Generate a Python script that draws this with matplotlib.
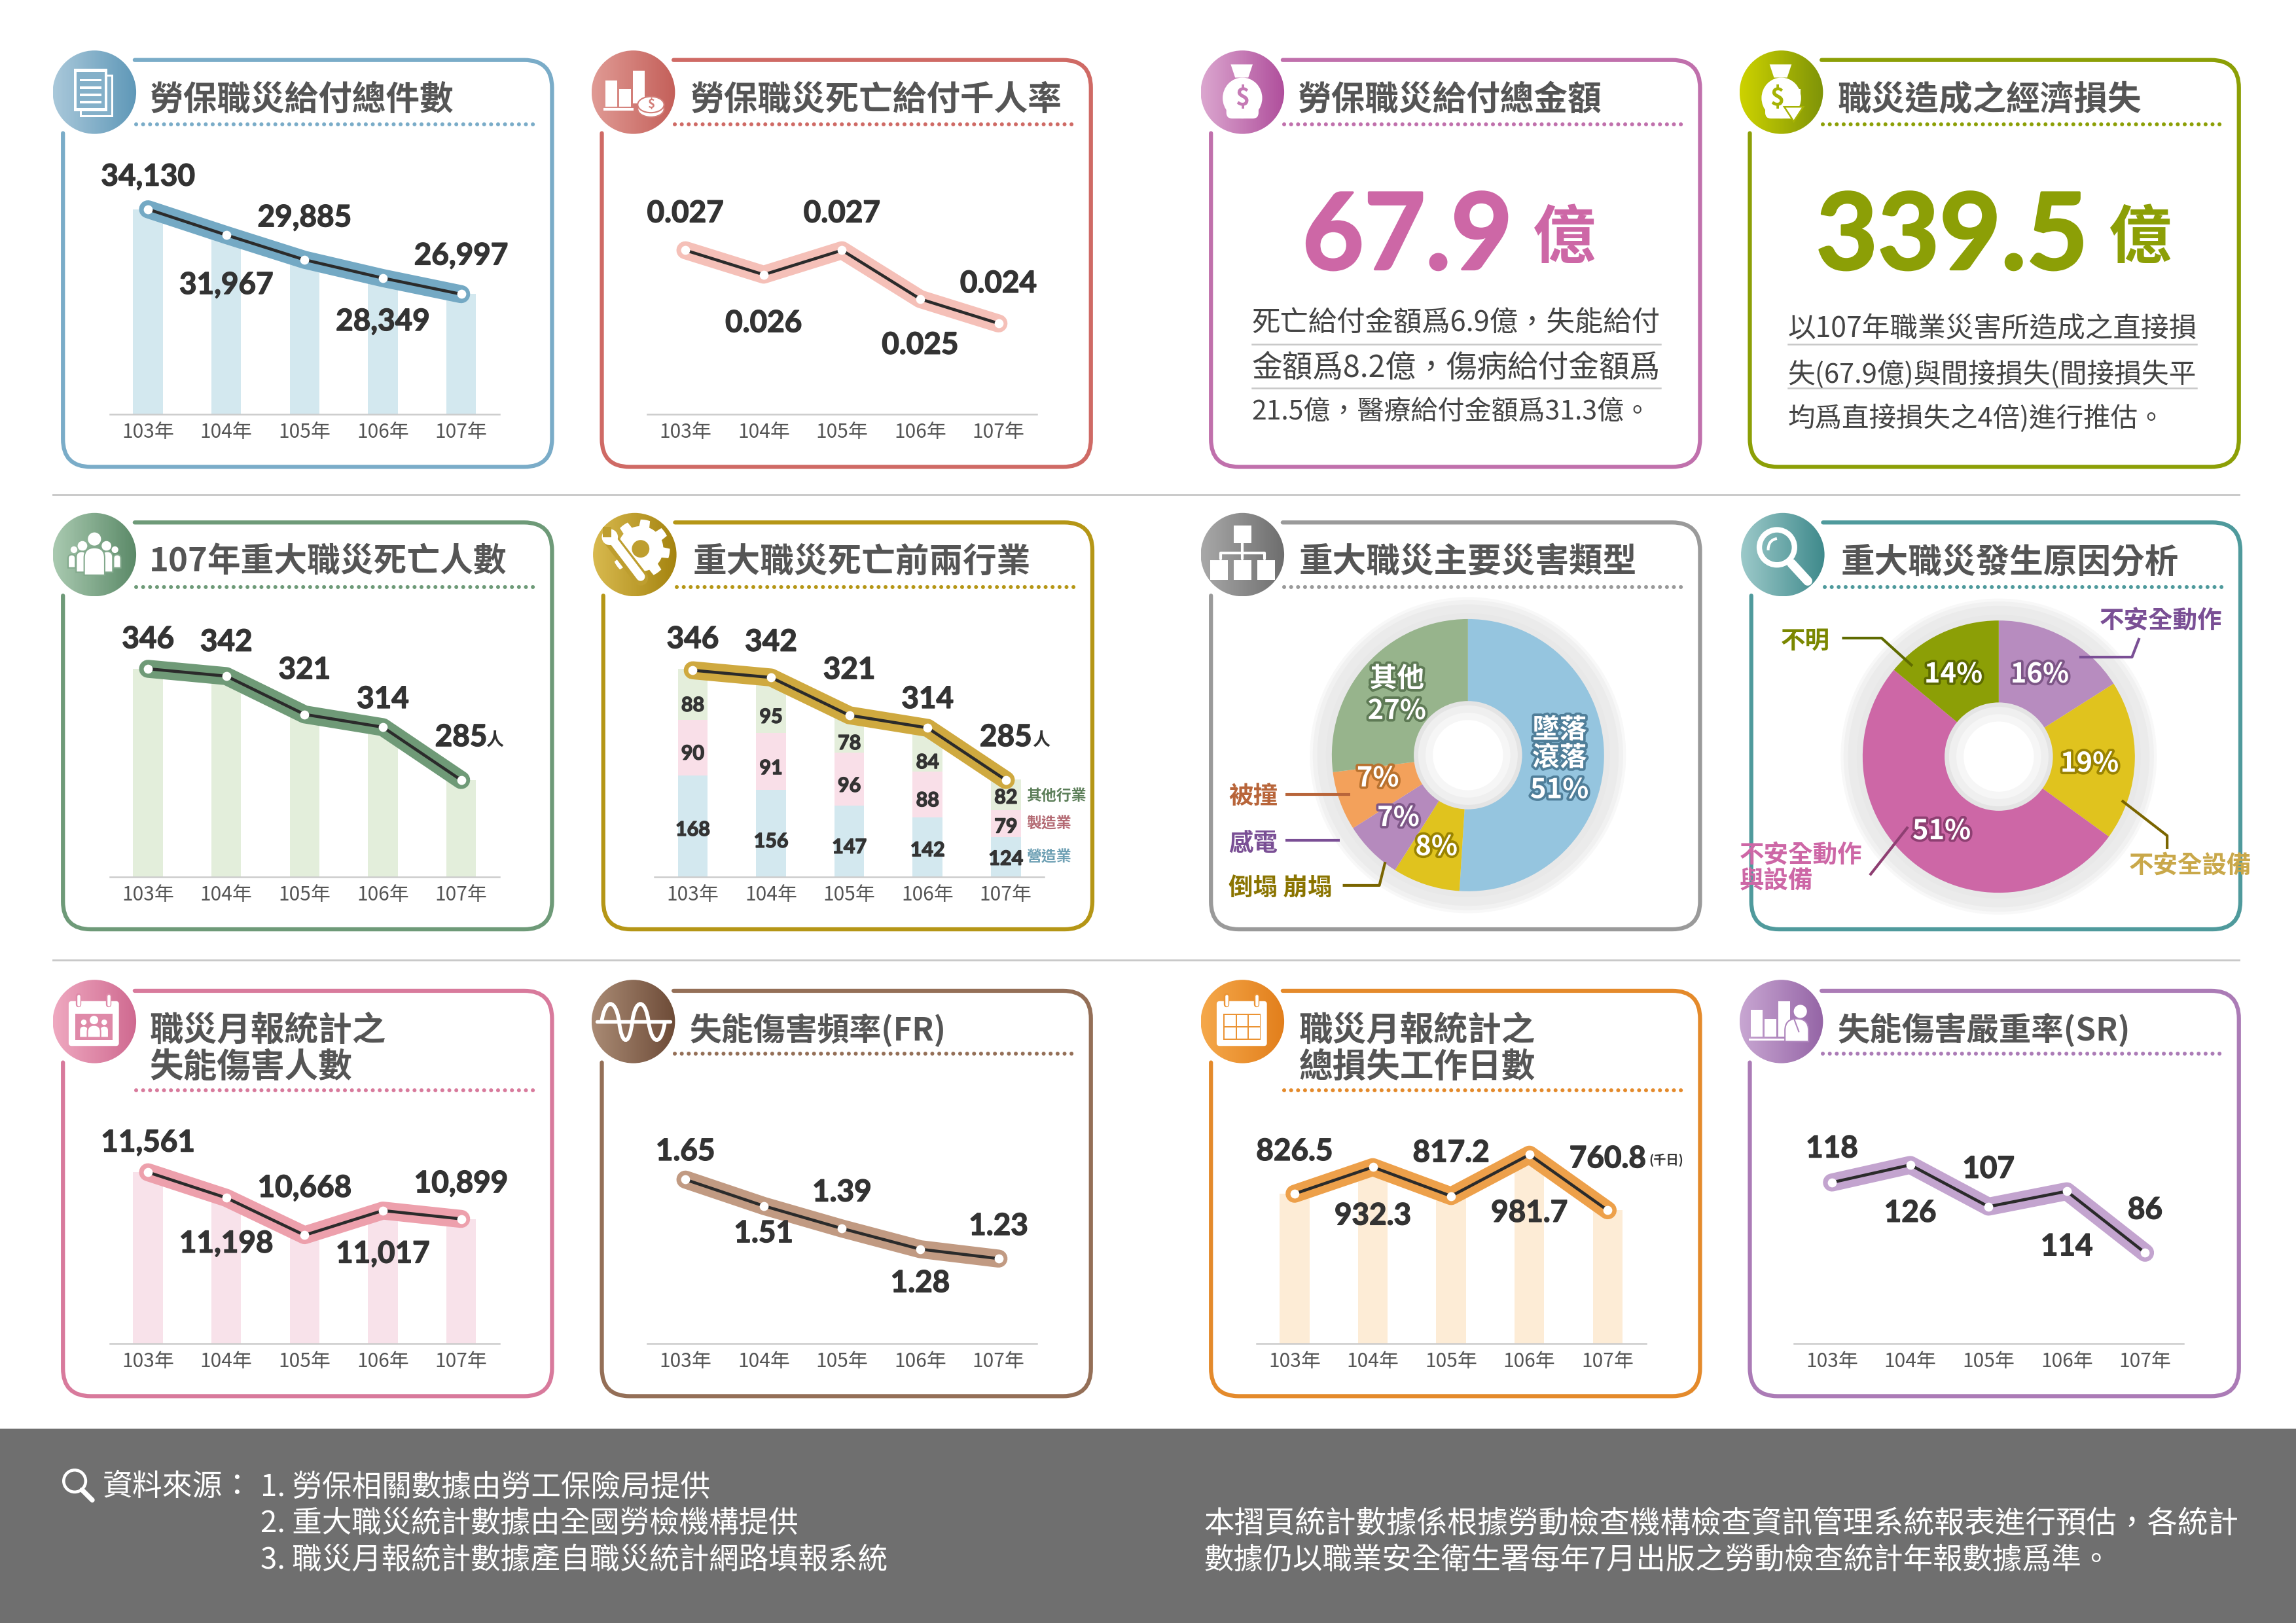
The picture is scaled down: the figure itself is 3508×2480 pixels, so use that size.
import numpy as np
import matplotlib
matplotlib.use('Agg')
import matplotlib.pyplot as plt
import matplotlib.patheffects as pe
from matplotlib.colors import LinearSegmentedColormap
from matplotlib.patches import Circle, Ellipse, Rectangle, Polygon, PathPatch, FancyBboxPatch
from matplotlib.path import Path
from matplotlib.transforms import blended_transform_factory

plt.rcParams['font.family'] = ['Noto Sans CJK TC', 'DejaVu Sans']

# data
years = ['103年', '104年', '105年', '106年', '107年']
claims = [34130, 31967, 29885, 28349, 26997]
death_rate = [0.027, 0.026, 0.027, 0.025, 0.024]
deaths = [346, 342, 321, 314, 285]
injured = [11561, 11198, 10668, 11017, 10899]
fr = [1.65, 1.51, 1.39, 1.28, 1.23]
lost_days = [826.5, 932.3, 817.2, 981.7, 760.8]
sr = [118, 126, 107, 114, 86]

construction = [168, 156, 147, 142, 124]
manufacturing = [90, 91, 96, 88, 79]
other_ind = [88, 95, 78, 84, 82]
# the stack is not to scale in the original, heights read off on the line's axis
construction_h = [56.1, 48.2, 39.5, 33.1, 22.0]
manufacturing_h = [30.9, 31.7, 29.3, 25.4, 15.0]
other_h = [28.5, 31.1, 21.2, 24.5, 17.0]

type_names = ['墜落滾落', '倒塌崩塌', '感電', '被撞', '其他']
type_share = [51, 8, 7, 7, 27]
cause_names = ['不安全動作', '不安全設備', '不安全動作與設備', '不明']
cause_share = [16, 19, 51, 14]

W, H = 1568., 1109.
fig = plt.figure(figsize=(3508/300., 2480/300.), dpi=300, facecolor='white')
deco = fig.add_axes([0, 0, 1, 1])
deco.set_xlim(0, W)
deco.set_ylim(H, 0)
deco.axis('off')
deco.set_autoscale_on(False)

NUM = ['Lato', 'Noto Sans CJK TC']
DARK = '#333333'
TITLE = '#555555'
UP = 2  # centred CJK text sits a little high


def inset(l, t, r, b):
    a = fig.add_axes([l/W, 1-b/H, (r-l)/W, (b-t)/H])
    a.patch.set_alpha(0)
    return a


def fit(txt, width):
    # scale the font so a line takes the width it has in the original
    rend = fig.canvas.get_renderer()
    ext = txt.get_window_extent(rend)
    target = width*3508/W
    txt.set_fontsize(txt.get_fontsize()*target/ext.width)


def box(x0, x1, y0, y1, ys, color):
    r = 19
    xs = x0+49
    verts = [(xs, y0), (x1-r, y0), (x1, y0), (x1, y0+r), (x1, y1-r), (x1, y1), (x1-r, y1),
             (x0+r, y1), (x0, y1), (x0, y1-r), (x0, ys)]
    codes = [Path.MOVETO, Path.LINETO, Path.CURVE3, Path.CURVE3, Path.LINETO, Path.CURVE3, Path.CURVE3,
             Path.LINETO, Path.CURVE3, Path.CURVE3, Path.LINETO]
    deco.add_patch(PathPatch(Path(verts, codes), fc='none', ec=color, lw=1.5, capstyle='round'))


def disc(cx, cy, c1, c2, r=28.5):
    cmap = LinearSegmentedColormap.from_list('d', [c1, c2])
    g = np.linspace(0, 1, 64).reshape(1, -1)
    im = deco.imshow(g, cmap=cmap, extent=(cx-r, cx+r, cy+r, cy-r), aspect='auto', zorder=1)
    clip = Circle((cx, cy), r, transform=deco.transData)
    im.set_clip_path(clip)


def dots(x0, x1, y, color):
    deco.plot([x0, x1], [y, y], color=color, lw=1.45, linestyle=(0, (0.01, 1.75)), dash_capstyle='round')


def title(x, y, s, width=None):
    t = deco.text(x, y+UP, s, fontsize=12.4, fontweight='bold', color=TITLE, va='center', ha='left')
    if width:
        fit(t, width)


def rect(x, y, w, h, fc='white', r=0):
    if r:
        p = FancyBboxPatch((x, y), w, h, boxstyle='round,pad=0,rounding_size=%f' % r, fc=fc, ec='none', zorder=5)
    else:
        p = Rectangle((x, y), w, h, fc=fc, ec='none', zorder=5)
    deco.add_patch(p)


def circ(x, y, r, fc='white'):
    deco.add_patch(Circle((x, y), r, fc=fc, ec='none', zorder=5))


def seg(pts, lw=1.5, c='white'):
    pts = np.array(pts)
    deco.plot(pts[:, 0], pts[:, 1], color=c, lw=lw, solid_capstyle='round', zorder=5)


def arch(x0, x1, top, bottom, c):
    # person body: flat bottom, rounded top
    verts = [(x0, bottom), (x0, top+(x1-x0)/2.), (x0, top), ((x0+x1)/2., top), (x1, top), (x1, top+(x1-x0)/2.),
             (x1, bottom), (x0, bottom)]
    codes = [Path.MOVETO, Path.LINETO, Path.CURVE3, Path.CURVE3, Path.CURVE3, Path.CURVE3, Path.LINETO, Path.CLOSEPOLY]
    deco.add_patch(PathPatch(Path(verts, codes), fc='white', ec=c, lw=0.5, zorder=5))


def icon_doc(x, y, c):
    rect(x-10, y-12, 23, 29)
    rect(x-8.5, y-10.5, 20, 26, fc=c)
    rect(x-14, y-16, 23, 29)
    rect(x-12, y-14, 19, 25, fc=c)
    for dy in (-9, -4, 1, 6):
        rect(x-10, y+dy, 15, 1.6)


def icon_bars(x, y, c):
    rect(x-19, y-8, 8, 18)
    rect(x-9.7, y-2, 8.2, 12)
    rect(x-0.3, y-14.6, 8, 22.4)
    rect(x-20.5, y+11, 20.5, 1.5)
    deco.add_patch(Ellipse((x+12, y+11.5), 18, 11, fc='white', ec=c, lw=0.5, zorder=5))
    deco.add_patch(Ellipse((x+12, y+8.5), 18, 11, fc='white', ec=c, lw=0.5, zorder=5))
    deco.text(x+12, y+8.5, '$', color=c, fontsize=4.5, fontweight='bold', ha='center', va='center', zorder=6)


def icon_bag(x, y, c, arrow=False):
    deco.add_patch(Polygon([(x-8, y-19), (x+7, y-19), (x+4, y-10), (x-5, y-10)], fc='white', ec='none', zorder=5))
    deco.add_patch(Ellipse((x, y+4), 27, 28, fc='white', ec='none', zorder=5))
    rect(x-11, y+6, 22, 12, r=4)
    dx = -3 if arrow else 0
    deco.text(x+dx, y+4, '$', color=c, fontsize=9, fontweight='bold', ha='center', va='center', zorder=6)
    if arrow:
        rect(x+4, y-2, 9, 3)
        rect(x+6, y-2, 5, 13, fc='white')
        deco.add_patch(Polygon([(x+2, y+10), (x+15, y+10), (x+8.5, y+20)], fc='white', ec=c, lw=0.6, zorder=5))


def icon_people(x, y, c):
    for sgn in (-1, 1):
        circ(x+sgn*14, y-3.4, 2.3)
        a, b = sorted((x+sgn*18, x+sgn*13))
        arch(a, b, y, y+9, c)
    for sgn in (-1, 1):
        circ(x+sgn*8.2, y-6, 3.3)
        a, b = sorted((x+sgn*12.5, x+sgn*5))
        arch(a, b, y-2.2, y+12, c)
    circ(x, y-10.7, 4.5)
    arch(x-7, x+7, y-4.8, y+14, c)


def icon_gear(x, y, c):
    ang = np.linspace(0, 2*np.pi, 97)[:-1]
    rad = np.where((np.arange(96) % 12) < 6, 20.0, 15.5)
    pts = np.column_stack((x+4+rad*np.cos(ang), y-4+rad*np.sin(ang)))
    deco.add_patch(Polygon(pts, fc='white', ec='none', zorder=5))
    circ(x+4, y-4, 6, fc=c)
    seg([(x-16, y-10), (x+4, y+16)], lw=5.5, c=c)
    seg([(x-15, y-10), (x+4, y+15)], lw=3.2)
    circ(x-17, y-12, 5.5)
    rect(x-22, y-19, 6, 7, fc=c)


def icon_org(x, y, c):
    rect(x-6, y-20, 12, 12)
    seg([(x, y-8), (x, y-1)], lw=1)
    seg([(x-15, y+3), (x-15, y-1), (x+15, y-1), (x+15, y+3)], lw=1)
    seg([(x, y-1), (x, y+3)], lw=1)
    for dx in (-22, -6, 10):
        rect(x+dx, y+4, 12, 13)


def icon_glass(x, y, c):
    seg([(x+6, y+6), (x+17, y+18)], lw=3.4)
    deco.add_patch(Circle((x-4, y-5), 12, fc='none', ec='white', lw=2, zorder=5))
    deco.add_patch(PathPatch(Path([(x-10, y-3), (x-10, y-10), (x-4, y-11)], [Path.MOVETO, Path.CURVE3, Path.CURVE3]),
                             fc='none', ec='white', lw=1, zorder=5))


def calendar(x, y, c):
    rect(x-17.6, y-13.9, 34.3, 30.6, r=2)
    for dx in (-10.9, 9.5):
        seg([(x+dx, y-17.5), (x+dx, y-11.5)], lw=2.0, c=c)
        seg([(x+dx, y-17.5), (x+dx, y-11.5)], lw=1.1)


def icon_cal_people(x, y, c):
    calendar(x, y, c)
    rect(x-13.1, y-5.2, 25.6, 17.9, fc=c)
    xm = x-0.3
    for sgn in (-1, 1):
        circ(xm+sgn*7, y+0.5, 1.9)
        a, b = sorted((xm+sgn*10, xm+sgn*4))
        arch(a, b, y+3, y+11, c)
    circ(xm, y-1, 2.9)
    arch(xm-4.5, xm+4.5, y+2.5, y+11, c)


def icon_wave(x, y, c):
    xs = [-21.6, -9.7, -0.7, 10.4, 21.6]
    hs = [-16, 16.8, -16, 16.8]
    verts = [(x+xs[0], y)]
    codes = [Path.MOVETO]
    for k in range(4):
        w = xs[k+1]-xs[k]
        verts += [(x+xs[k]+0.2*w, y+hs[k]), (x+xs[k+1]-0.2*w, y+hs[k]), (x+xs[k+1], y)]
        codes += [Path.CURVE4]*3
    deco.add_patch(PathPatch(Path(verts, codes), fc='none', ec='white', lw=1.4, zorder=5))
    seg([(x-25, y), (x+25, y)], lw=1.3)


def icon_cal(x, y, c):
    calendar(x, y, c)
    rect(x-13.1, y-5.2, 25.6, 17.9, fc=c)
    for i in range(3):
        for j in range(2):
            rect(x-12.2+i*8.3, y-4.3+j*8.4, 7.4, 7.6)


def icon_chart_person(x, y, c):
    rect(x-20.9, y-7.9, 8, 18.2)
    rect(x-11.6, y-1.6, 8.2, 11.9)
    rect(x-2.2, y-13.9, 8, 24.2)
    rect(x-22, y+11.5, 28.3, 1.5)
    circ(x+13, y-6.9, 4.5)
    arch(x+2.5, x+18.6, y-1.9, y+13.7, c)
    seg([(x+9, y-1), (x+12, y+7)], lw=0.5, c=c)


# panel boxes
rows = [(41, 319, 63), (357, 635, 379), (677, 954, 698)]
lefts = [(43, 377), (411, 745), (827, 1161), (1195, 1529)]
panel_titles = [
    ['勞保職災給付總件數', '勞保職災死亡給付千人率', '勞保職災給付總金額', '職災造成之經濟損失'],
    ['107年重大職災死亡人數', '重大職災死亡前兩行業', '重大職災主要災害類型', '重大職災發生原因分析'],
    ['職災月報統計之\n失能傷害人數', '失能傷害頻率(FR)', '職災月報統計之\n總損失工作日數', '失能傷害嚴重率(SR)'],
]
title_w = [[None]*4, [244, None, None, None], [None, 175, None, 200]]
box_colors = [
    ['#7aacc8', '#cf6a65', '#c070ac', '#8c9f06'],
    ['#6e9a78', '#b59616', '#9a9a9a', '#4f9a9c'],
    ['#d87a9c', '#946f57', '#e48a2b', '#ab7bb6'],
]
disc_colors = [
    [('#a9c8da', '#5f98b8'), ('#e09a94', '#c4605a'), ('#dba6cf', '#b04f9c'), ('#cdd200', '#7f9408')],
    [('#a9c9b0', '#5b8a68'), ('#d8b94e', '#a58410'), ('#a8a8a8', '#6e6e6e'), ('#9cc9c9', '#3f8a8c')],
    [('#efa8c0', '#cf6a90'), ('#a98a74', '#6e4c38'), ('#f5a84a', '#e27f1c'), ('#c8a6d2', '#9565a6')],
]
icons = [
    [icon_doc, icon_bars, icon_bag, lambda x, y, c: icon_bag(x, y, c, True)],
    [icon_people, icon_gear, icon_org, icon_glass],
    [icon_cal_people, icon_wave, icon_cal, icon_chart_person],
]
shift = [[0, 0, 0, 0], [0, 1, 0, 1], [0, 0, 0, 0]]
title_x = [[102, 471, 886, 1255], [102, 473, 887, 1257], [102, 471, 887, 1255]]

for i, (y0, y1, cy) in enumerate(rows):
    for j, (x0, x1) in enumerate(lefts):
        s = shift[i][j]
        col = box_colors[i][j]
        box(x0+s, x1+s, y0, y1, cy+28, col)
        cx = x0+s+21.5
        disc(cx, cy, *disc_colors[i][j])
        mid = '#%02x%02x%02x' % tuple(int((int(disc_colors[i][j][0][k:k+2], 16)+int(disc_colors[i][j][1][k:k+2], 16))/2) for k in (1, 3, 5))
        icons[i][j](cx, cy, mid)
        t = panel_titles[i][j]
        tx = title_x[i][j]
        if '\n' in t:
            a, b = t.split('\n')
            title(tx, cy+4, a)
            title(tx, cy+29, b)
            dots(x0+s+50, x1+s-11, cy+47, col)
        else:
            title(tx, cy+(3 if i < 2 else 4), t, title_w[i][j])
            dots(x0+s+50, x1+s-11, cy+22, col)

# separators and footer
deco.plot([36, 1529], [338, 338], color='#c9c9c9', lw=0.7)
deco.plot([36, 1529], [656, 656], color='#c9c9c9', lw=0.7)
deco.add_patch(Rectangle((0, 976), W, H-976, fc='#6f6f6f', ec='none', zorder=1))

XLIM = (-0.488, 4.488)
BOLDER = [pe.withStroke(linewidth=0.35, foreground=DARK)]


def setup_axes(left, base, a1, a2):
    # a1, a2: (value, picture y) pairs that fix the value scale of this chart
    right = left+266
    top = base-200
    ax = inset(left, top, right, base)
    k = (a1[0]-a2[0])/float(a2[1]-a1[1])
    ax.set_ylim(a2[0]-(base-a2[1])*k, a2[0]+(a2[1]-top)*k)
    ax.set_xlim(*XLIM)
    for sp in ('top', 'left', 'right'):
        ax.spines[sp].set_visible(False)
    ax.spines['bottom'].set_color('#cccccc')
    ax.spines['bottom'].set_linewidth(0.6)
    ax.set_yticks([])
    ax.set_xticks(range(5))
    ax.set_xticklabels(years, fontsize=7.2, color='#555555')
    ax.tick_params(axis='x', length=0, pad=3)
    return ax


def trend(ax, values, thick):
    x = np.arange(5)
    ax.plot(x, values, color=thick, lw=6.6, solid_joinstyle='round', solid_capstyle='round', clip_on=False, zorder=4)
    ax.plot(x, values, color='#2b2b2b', lw=1.1, clip_on=False, zorder=5)
    ax.plot(x, values, 'o', color='white', ms=3.3, mew=0, clip_on=False, zorder=6)


def value_labels(ax, labels, ys):
    tr = blended_transform_factory(ax.transData, deco.transData)
    for n, (s, y) in enumerate(zip(labels, ys)):
        ax.text(n, y+UP, s, transform=tr, family=NUM, fontweight='bold', fontsize=11, color=DARK,
                ha='center', va='center', clip_on=False, zorder=7, path_effects=BOLDER)


x5 = np.arange(5)

# row 1
ax = setup_axes(75, 283, (34130, 143), (26997, 201))
ax.bar(x5, claims, width=0.38, color='#d3e8ef')
trend(ax, claims, '#74a9c4')
value_labels(ax, ['34,130', '31,967', '29,885', '28,349', '26,997'], [119, 193, 147, 218, 173])

ax = setup_axes(442, 283, (0.027, 171), (0.024, 221))
trend(ax, death_rate, '#f5c0b8')
value_labels(ax, ['0.027', '0.026', '0.027', '0.025', '0.024'], [144, 219, 144, 234, 192])

# big figures
big = [(1033, 163, '67.9', '#cd67a6', 1047, 1090), (1426, 163, '339.5', '#8c9f06', 1440, 1485)]
for xr, y, s, c, xa, xb in big:
    deco.text(xr, y, s, family=NUM, fontweight='bold', fontsize=39, color=c, ha='right', va='center',
              path_effects=[pe.withStroke(linewidth=0.8, foreground=c)])
    deco.text(xa, y, '億', fontweight='bold', fontsize=23, color=c, ha='left', va='center')

body3 = ['死亡給付金額爲6.9億，失能給付', '金額爲8.2億，傷病給付金額爲', '21.5億，醫療給付金額爲31.3億。']
body4 = ['以107年職業災害所造成之直接損', '失(67.9億)與間接損失(間接損失平', '均爲直接損失之4倍)進行推估。']
for lines, xs, ys, ws, rx in ((body3, 855, (219, 250, 280), (280, 280, 273), (855, 1134)),
                              (body4, 1221, (223, 254, 284), (280, 280, 258), (1221, 1500))):
    for s, y, w in zip(lines, ys, ws):
        fit(deco.text(xs, y+UP, s, fontsize=9.5, color='#444444', va='center', ha='left'), w)
    for y in (235, 265):
        deco.plot(rx, [y, y], color='#c8c8c8', lw=0.6)

# row 2
ax = setup_axes(75, 599, (346, 457), (285, 533))
ax.bar(x5, deaths, width=0.38, color='#e3eedb')
trend(ax, deaths, '#6f9a77')
value_labels(ax, [str(v) for v in deaths], [435, 437, 456, 476, 502])
deco.text(338, 506, '人', fontsize=6.5, fontweight='bold', color=DARK, ha='center', va='center', zorder=8)

ax = setup_axes(447, 599, (346, 458), (285, 533))
ymin = ax.get_ylim()[0]
b1 = ymin+np.array(construction_h)
b2 = b1+np.array(manufacturing_h)
ax.bar(x5, construction_h, bottom=ymin, width=0.38, color='#d3e8ef')
ax.bar(x5, manufacturing_h, bottom=b1, width=0.38, color='#f9dfe8')
ax.bar(x5, other_h, bottom=b2, width=0.38, color='#e4eedb')
trend(ax, deaths, '#cfa93f')
value_labels(ax, [str(v) for v in deaths], [435, 437, 456, 476, 502])
tr = blended_transform_factory(ax.transData, deco.transData)
label_y = [(565, 513, 480), (573, 523, 488), (577, 535, 506), (579, 545, 519), (585, 563, 543)]
for n in range(5):
    for s, y in zip((construction[n], manufacturing[n], other_ind[n]), label_y[n]):
        ax.text(n, y+UP, str(s), transform=tr, family=NUM, fontweight='bold', fontsize=7.3, color=DARK,
                ha='center', va='center', zorder=7, path_effects=BOLDER)
deco.text(711, 506, '人', fontsize=6.5, fontweight='bold', color=DARK, ha='center', va='center', zorder=8)
for y, s, c in ((544, '其他行業', '#5d7f5a'), (563, '製造業', '#b46b74'), (586, '營造業', '#6ea0b4')):
    deco.text(701, y, s, fontsize=5.5, fontweight='bold', color=c, ha='left', va='center')


def donut(cx, cy, share, colors):
    R = 112
    ax = inset(cx-R, cy-R, cx+R, cy+R)
    for r, c in ((108, '#f8f8f8'), (106, '#f1f1f1'), (103, '#ebebeb'), (97, '#e8e8e8')):
        ax.add_patch(Circle((0, 0), r, fc=c, ec='none', zorder=1))
    ax.pie(share, colors=colors, radius=93, startangle=90, counterclock=False, wedgeprops=dict(zorder=2))
    for r, c in ((37, '#e4e4e4'), (34, '#efefef'), (29, '#f6f6f6'), (24, 'white')):
        ax.add_patch(Circle((0, 0), r, fc=c, ec='none', zorder=3))
    ax.set_xlim(-R, R)
    ax.set_ylim(-R, R)
    ax.set_aspect('equal')


donut(1002.5, 516, type_share, ['#95c5df', '#e0c31e', '#b58abd', '#f3a15b', '#97b48c'])
donut(1365, 517, cause_share, ['#b78cbf', '#e0c31e', '#cd67a6', '#8c9f06'])

# pie labels go on a layer above the pie axes
over = fig.add_axes([0, 0, 1, 1])
over.set_xlim(0, W)
over.set_ylim(H, 0)
over.axis('off')


def pct(x, y, s, edge, size=10):
    over.text(x, y+UP, s, fontsize=size, fontweight='bold', color='white', ha='center', va='center', zorder=9,
              path_effects=[pe.withStroke(linewidth=1.8, foreground=edge)])


pct(954, 462, '其他', '#5e7a55')
pct(954, 484, '27%', '#5e7a55')
pct(1065, 497, '墜落', '#4f7e99')
pct(1065, 516, '滾落', '#4f7e99')
pct(1065, 538, '51%', '#4f7e99')
pct(941, 530, '7%', '#b9722f')
pct(955, 557, '7%', '#7d5687')
pct(981, 577, '8%', '#9a8300')
pct(1334, 459, '14%', '#5c6a00')
pct(1393, 459, '16%', '#7d5687')
pct(1427, 520, '19%', '#9a8300')
pct(1326, 566, '51%', '#8e3f72')


def leader(pts, c):
    pts = np.array(pts)
    over.plot(pts[:, 0], pts[:, 1], color=c, lw=1.0, zorder=8, solid_capstyle='butt')


def tag(x, y, s, c, ha='left'):
    over.text(x, y+UP, s, fontsize=9, fontweight='bold', color=c, ha=ha, va='center', zorder=8)


tag(839, 542, type_names[3], '#b8653a')
leader([(878, 543), (922, 543)], '#b8653a')
tag(839, 574, type_names[2], '#7a4f95')
leader([(878, 574), (915, 574)], '#7a4f95')
tag(839, 605, '倒塌 崩塌', '#8a7400')
leader([(917, 605), (942, 605), (946, 589)], '#7a6500')

tag(1216, 436, cause_names[3], '#7a8700')
leader([(1258, 436), (1285, 436), (1306, 455)], '#5f6b00')
tag(1434, 422, cause_names[0], '#7a4f95')
leader([(1461, 436), (1456, 449), (1420, 449)], '#7a4f95')
tag(1454, 589, cause_names[1], '#c9a84a')
leader([(1449, 547), (1480, 571), (1480, 580)], '#7a6500')
tag(1188, 582, '不安全動作', '#cd67a6')
tag(1188, 600, '與設備', '#cd67a6')
leader([(1277, 598), (1303, 565)], '#8e3f72')

# row 3
ax = setup_axes(75, 918, (11561, 801), (10668, 844))
ax.bar(x5, injured, width=0.38, color='#f8e2ea')
trend(ax, injured, '#eda0ac')
value_labels(ax, ['11,561', '11,198', '10,668', '11,017', '10,899'], [779, 848, 810, 855, 807])

ax = setup_axes(442, 918, (1.65, 806), (1.23, 860))
trend(ax, fr, '#c19a82')
value_labels(ax, ['1.65', '1.51', '1.39', '1.28', '1.23'], [785, 841, 813, 875, 836])

ax = setup_axes(858, 918, (981.7, 789), (760.8, 827))
ax.bar(x5, lost_days, width=0.38, color='#fdecd6')
trend(ax, lost_days, '#eda04a')
value_labels(ax, ['826.5', '932.3', '817.2', '981.7', '760.8'], [785, 829, 786, 827, 790])
deco.text(1138, 793, '(千日)', fontsize=4.6, fontweight='bold', color=DARK, ha='center', va='center', zorder=8)

ax = setup_axes(1225, 918, (126, 796), (86, 856))
trend(ax, sr, '#c3a4cf')
value_labels(ax, ['118', '126', '107', '114', '86'], [783, 827, 797, 850, 825])

# footer text
deco.add_patch(Circle((51, 1012), 7.5, fc='none', ec='white', lw=1.1, zorder=5))
deco.plot([56, 63], [1018, 1025], color='white', lw=1.8, zorder=5, solid_capstyle='round')
FS = 11
deco.text(70, 1014+UP, '資料來源：', fontsize=FS, color='white', va='center', zorder=5)
for y, s, w in ((1014, '1. 勞保相關數據由勞工保險局提供', 307), (1039, '2. 重大職災統計數據由全國勞檢機構提供', 368),
                (1064, '3. 職災月報統計數據產自職災統計網路填報系統', 429)):
    fit(deco.text(178, y+UP, s, fontsize=FS, color='white', va='center', zorder=5), w)
for y, s, w in ((1039, '本摺頁統計數據係根據勞動檢查機構檢查資訊管理系統報表進行預估，各統計', 708),
                (1064, '數據仍以職業安全衛生署每年7月出版之勞動檢查統計年報數據爲準。', 620)):
    fit(deco.text(822, y+UP, s, fontsize=FS, color='white', va='center', zorder=5), w)

fig.savefig('out.png', dpi=300)
